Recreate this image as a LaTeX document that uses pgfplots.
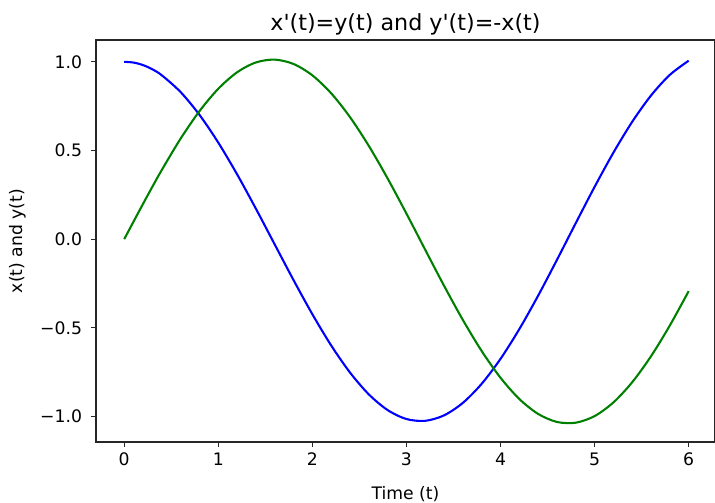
\documentclass[border=0pt]{standalone}
\usepackage{fontspec}
\setmainfont{DejaVu Sans}
\usepackage{pgfplots}
\pgfplotsset{compat=1.18}
\usetikzlibrary{calc}
\definecolor{mplblue}{rgb}{0,0,1}
\definecolor{mplgreen}{rgb}{0,0.5,0}
\definecolor{spine}{rgb}{0.15,0.15,0.15}

\pgfplotstableread{
t     xs       ys
0.0   1.0000   0.0000
0.1   0.9958   0.0999
0.2   0.9816   0.1990
0.3   0.9576   0.2962
0.4   0.9240   0.3907
0.6   0.8293   0.5674
0.8   0.7012   0.7219
1.0   0.5446   0.8482
1.2   0.3658   0.9410
1.4   0.1719   0.9965
1.6  -0.0296   1.0124
1.8  -0.2305   0.9879
2.0  -0.4228   0.9238
2.2  -0.5989   0.8227
2.4  -0.7515   0.6884
2.6  -0.8747   0.5262
2.8  -0.9633   0.3425
3.0  -1.0138   0.1445
3.2  -1.0238  -0.0599
3.4  -0.9931  -0.2625
3.6  -0.9226  -0.4553
3.8  -0.8150  -0.6305
4.0  -0.6746  -0.7810
4.2  -0.5067  -0.9009
4.4  -0.3182  -0.9851
4.6  -0.1163  -1.0303
4.8   0.0909  -1.0344
5.0   0.2950  -0.9973
5.2   0.4880  -0.9202
5.4   0.6621  -0.8061
5.6   0.8103  -0.6596
5.8   0.9266  -0.4862
6.0   1.0063  -0.2928
}\soltable

\begin{document}
\begin{tikzpicture}
\begin{axis}[
  scale only axis,
  width=445.7pt, height=289.4pt,
  xmin=-0.3, xmax=6.28, ymin=-1.143, ymax=1.123,
  xtick={0,1,2,3,4,5,6},
  ytick={-1,-0.5,0,0.5,1},
  yticklabels={−1.0,−0.5,0.0,0.5,1.0},
  tick align=outside, tick pos=left,
  major tick length=3.5pt,
  every tick/.style={spine, line width=0.8pt},
  axis line style={spine, line width=0.8pt},
  /pgf/number format/assume math mode=true,
  tick label style={font=\fontsize{12.4}{14}\selectfont},
  label style={font=\fontsize{12.4}{14}\selectfont},
  xticklabel style={yshift=-1pt},
  yticklabel style={xshift=-3pt},
  title={x\textquotesingle(t)=y(t) and y\textquotesingle(t)=-x(t)},
  title style={font=\fontsize{16}{18}\selectfont, yshift=-6pt},
  xlabel={Time (t)},
  ylabel={x(t) and y(t)},
  xlabel style={yshift=-8pt},
  ylabel style={yshift=3.5pt},
  clip=false,
]
\addplot[mplblue, line width=1.5pt, smooth] table[x=t, y=xs] {\soltable};
\addplot[mplgreen, line width=1.5pt, smooth] table[x=t, y=ys] {\soltable};
\coordinate (SW) at (rel axis cs:0,0);
\coordinate (NE) at (rel axis cs:1,1);
\end{axis}
\pgfresetboundingbox
\path[use as bounding box] ($(SW)+(-69.1pt,-43.9pt)$) rectangle ($(NE)+(0pt,28.8pt)$);
\end{tikzpicture}
\end{document}
